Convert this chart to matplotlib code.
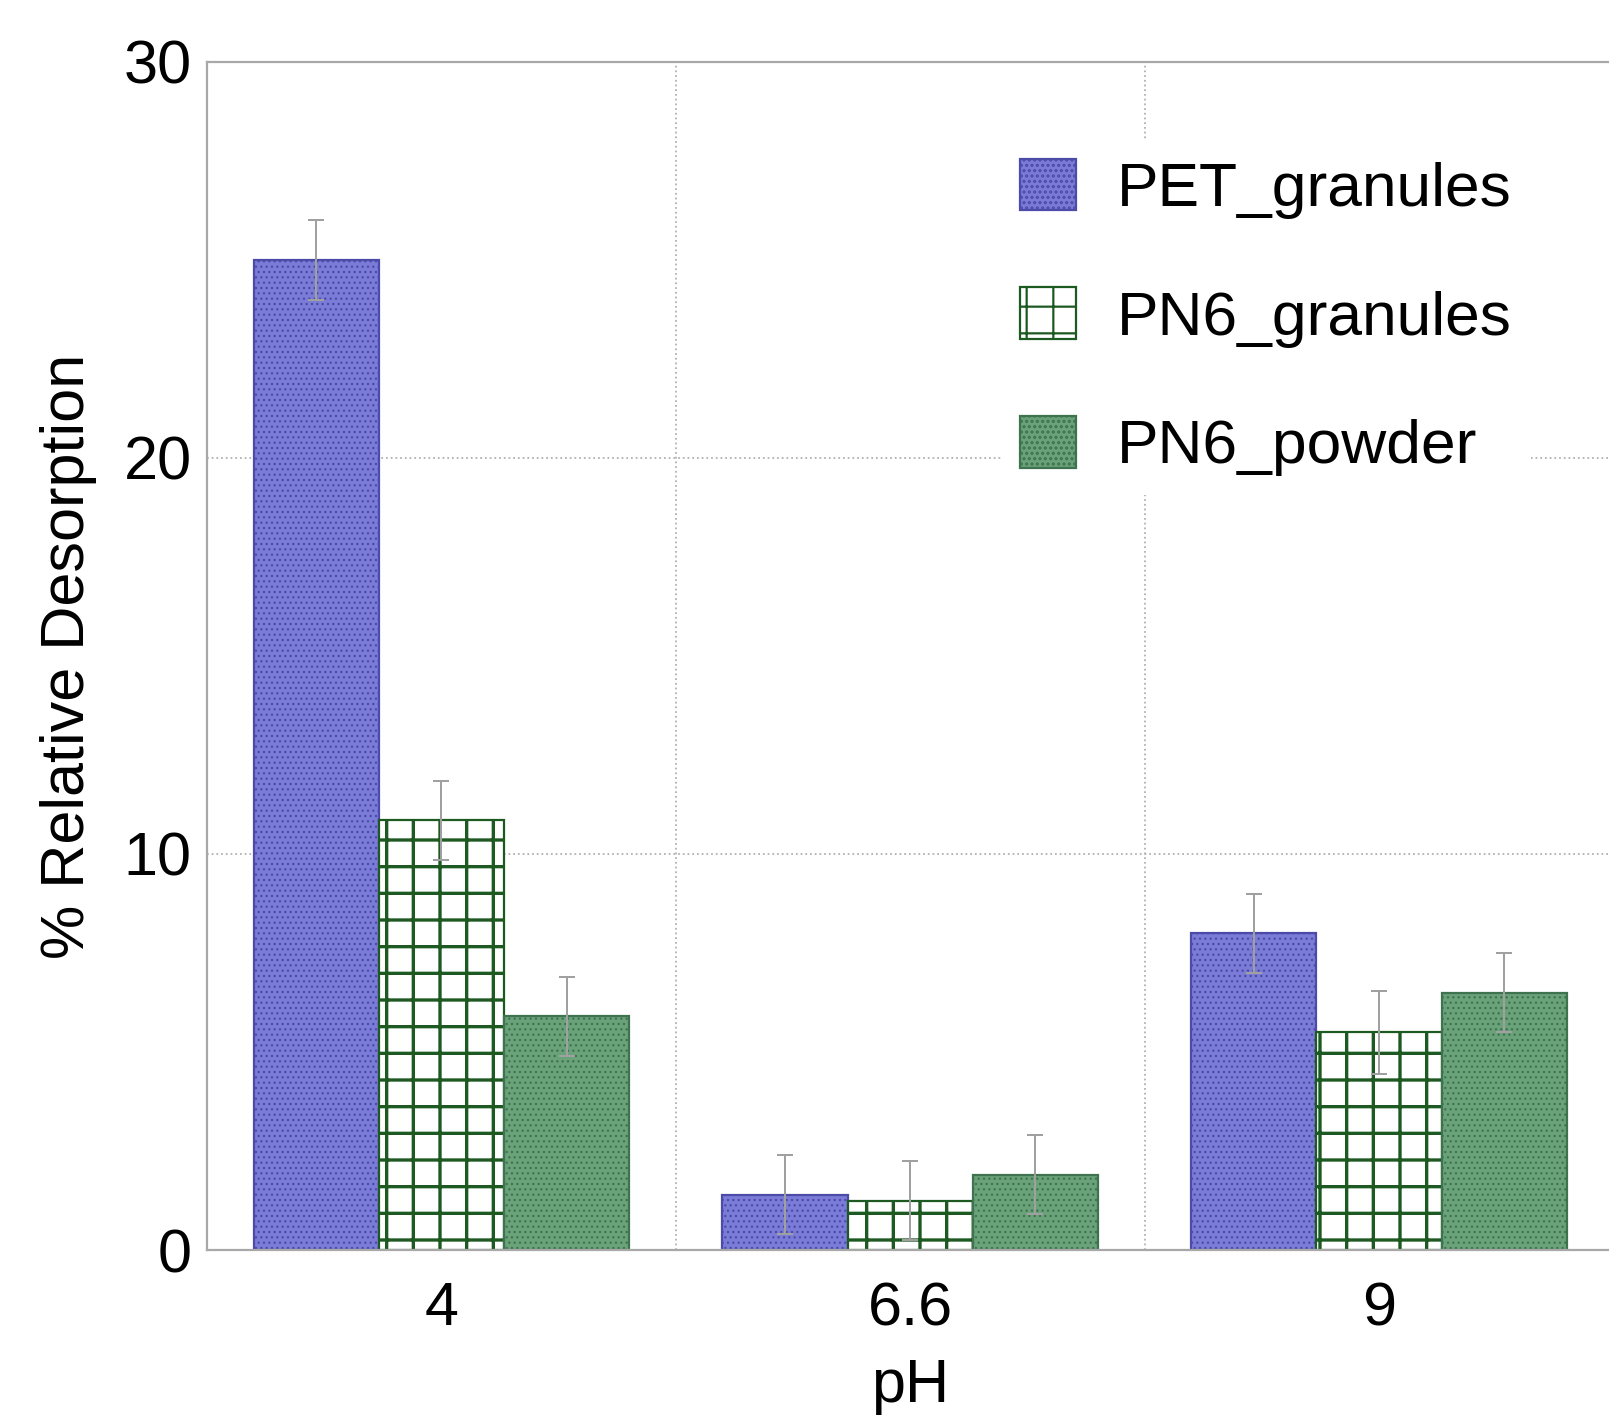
import numpy as np
import matplotlib
matplotlib.use("Agg")
import matplotlib.pyplot as plt

plt.rcParams['font.family'] = ['Liberation Sans', 'DejaVu Sans']

# data
ph_labels = ['4', '6.6', '9']
series = ['PET_granules', 'PN6_granules', 'PN6_powder']
pet_granules = [25.0, 1.4, 8.0]
pn6_granules = [10.85, 1.25, 5.5]
pn6_powder = [5.9, 1.9, 6.5]
pet_err = [1.0, 1.0, 1.0]
pn6g_err = [1.0, 1.0, 1.05]
pn6p_err = [1.0, 1.0, 1.0]

fig = plt.figure(figsize=(1609 / 160, 1415 / 160), dpi=160)
ax = fig.add_axes([0.1287, 0.1166, 0.874, 0.8396])

x = np.arange(len(ph_labels))
w = 0.267

styles = [
    dict(facecolor='#7b7bd8', edgecolor='#4c4ca8', hatch='.....', hlw=0.6),
    dict(facecolor='white', edgecolor='#1d5a22', hatch='+', hlw=1.5),
    dict(facecolor='#6aa27a', edgecolor='#3f7350', hatch='.....', hlw=0.6),
]
vals = [pet_granules, pn6_granules, pn6_powder]
errs = [pet_err, pn6g_err, pn6p_err]

for i, (v, e, st) in enumerate(zip(vals, errs, styles)):
    with plt.rc_context({'hatch.linewidth': st['hlw']}):
        ax.bar(x + (i - 1) * w, v, w, facecolor=st['facecolor'],
               edgecolor=st['edgecolor'], hatch=st['hatch'], linewidth=1.0,
               label=series[i], zorder=2)
    ax.errorbar(x + (i - 1) * w, v, yerr=e, fmt='none', ecolor='#a0a0a0',
                elinewidth=0.9, capsize=3.6, capthick=0.9, zorder=3)

ax.set_xlim(-0.5, 2.5)
ax.set_ylim(0, 30)
ax.set_xticks(x)
ax.set_xticklabels(ph_labels)
ax.set_xticks([0.5, 1.5], minor=True)
ax.set_yticks([0, 10, 20, 30])
ax.tick_params(axis='both', which='both', length=0, labelsize=27.5)
ax.tick_params(axis='x', pad=14)
ax.tick_params(axis='y', pad=7)
ax.grid(True, which='minor', axis='x', color='#b0b0b0', linestyle=':', linewidth=0.8)
ax.grid(True, which='major', axis='y', color='#b0b0b0', linestyle=':', linewidth=0.8)
ax.set_axisbelow(True)

for s in ax.spines.values():
    s.set_color('#a8a8a8')
    s.set_linewidth(1.0)

ax.set_xlabel('pH', fontsize=27.5, labelpad=9)
ax.set_ylabel('% Relative Desorption', fontsize=27.5, labelpad=12)

leg = fig.legend(loc='upper left', bbox_to_anchor=(0.603, 0.923), fontsize=28,
                 frameon=True, edgecolor='none', facecolor='white', framealpha=1,
                 handlelength=0.9, handleheight=0.9, handletextpad=0.66,
                 labelspacing=1.1, borderpad=0.3)
leg.set_zorder(5)

fig.savefig('out.png', dpi=160)
